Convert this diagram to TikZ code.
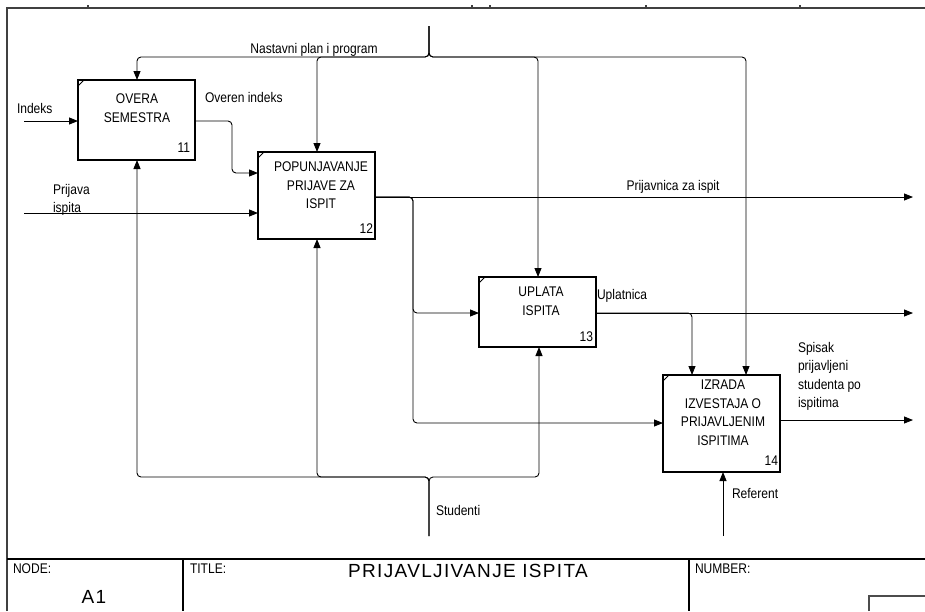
\documentclass[tikz,border=0pt]{standalone}
\usepackage{fontspec}
\setmainfont{Liberation Sans}[FakeStretch=0.86]
\newfontfamily\titlefont{Liberation Sans}[LetterSpace=7]
\usetikzlibrary{arrows.meta,calc}

\begin{document}
\begin{tikzpicture}[x=1pt,y=-1pt,
  every node/.style={inner sep=0pt, outer sep=0pt},
  lbl/.style={font=\fontsize{14}{18.5}\selectfont},
  boxtext/.style={lbl, align=center, anchor=north},
  fn/.style={draw, line width=1.6pt, minimum width=117pt},
  corner/.style={line width=0.8pt},
  con/.style={line width=0.9pt, rounded corners=4pt},
  arr/.style={con, -{Triangle[length=9pt,width=7pt]}},
  frame/.style={line width=1.1pt},
  bigtext/.style={font=\titlefont\fontsize{19}{21}\selectfont},
]
\useasboundingbox (0,0) rectangle (925,611);

% ---- sheet frame and title block ----
\draw[frame, black!75] (7,611) -- (7,8) -- (925,8);
\foreach \x in {88,472,490,646,800} \draw[frame, black!75] (\x,5) -- (\x,8);
\draw[frame] (7,559) -- (925,559);
\draw[frame] (183,559) -- (183,611);
\draw[frame] (689,559) -- (689,611);
\draw[frame, black!70] (869,611) -- (869,596) -- (925,596);
\node[lbl, anchor=base west] (nodelbl) at (13,573) {NODE:};
\node[lbl, anchor=base west] (titlelbl) at (190,573) {TITLE:};
\node[lbl, anchor=base west] (numlbl) at (695,573) {NUMBER:};
\node[bigtext, anchor=base] (nodeid) at (94,603) {A1};
\node[bigtext, anchor=base] (title) at (468,577) {PRIJAVLJIVANJE ISPITA};

% ---- activity boxes ----
\node[fn, minimum height=80pt] (b11) at (136.5,120) {};
\node[fn, minimum height=87pt] (b12) at (316.5,195.5) {};
\node[fn, minimum height=70pt] (b13) at (537.5,312) {};
\node[fn, minimum height=97pt] (b14) at (721.5,423.5) {};
\foreach \b in {b11,b12,b13,b14}
  \draw[corner] ($(\b.north west)+(0,6)$) -- ($(\b.north west)+(6,0)$);

\node[boxtext] (t11) at (137,94) {OVERA\\SEMESTRA};
\node[boxtext] (t12) at (321,162) {POPUNJAVANJE\\PRIJAVE ZA\\ISPIT};
\node[boxtext] (t13) at (541,287) {UPLATA\\ISPITA};
\node[boxtext] (t14) at (723,380) {IZRADA\\IZVESTAJA O\\PRIJAVLJENIM\\ISPITIMA};

\node[lbl, anchor=base east] (n11) at (190,152) {11};
\node[lbl, anchor=base east] (n12) at (373,233) {12};
\node[lbl, anchor=base east] (n13) at (593,341) {13};
\node[lbl, anchor=base east] (n14) at (778,465) {14};

% ---- free arrow ends ----
\coordinate (ctlsrc) at (429,26);
\coordinate (mechsrc) at (429,536);
\coordinate (refsrc) at (723,536);
\coordinate (indeks) at (24,121);
\coordinate (prijava) at (24,213);
\coordinate (o12) at (913,197);
\coordinate (o13) at (913,313);
\coordinate (o14) at (913,420);

% ---- controls: Nastavni plan i program ----
\draw[arr] (ctlsrc) |- (137,57) -- (137,0 |- b11.north);
\draw[arr] (ctlsrc) |- (317,57) -- (317,0 |- b12.north);
\draw[arr] (ctlsrc) |- (538,57) -- (538,0 |- b13.north);
\draw[arr] (ctlsrc) |- (746,57) -- (746,0 |- b14.north);
\node[lbl, anchor=base] (lnpp) at (314,53.5) {Nastavni plan i program};

% ---- mechanisms: Studenti ----
\draw[arr] (mechsrc) |- (137,477) -- (137,0 |- b11.south);
\draw[arr] (mechsrc) |- (317,477) -- (317,0 |- b12.south);
\draw[arr] (mechsrc) |- (539,477) -- (539,0 |- b13.south);
\node[lbl, anchor=base west] (lstud) at (436,515) {Studenti};

\draw[arr] (refsrc) -- (refsrc |- b14.south);
\node[lbl, anchor=base west] (lref) at (732,498) {Referent};

% ---- inputs ----
\draw[arr] (indeks) -- (b11.west |- indeks);
\node[lbl, anchor=base west] (lind) at (17,113) {Indeks};
\draw[arr] (prijava) -- (b12.west |- prijava);
\node[lbl, anchor=north west, align=left] (lprij) at (53,184) {Prijava\\ispita};

% ---- flows between activities ----
\draw[arr] (b11.east |- 0,121) -| (232,173) -- (b12.west |- 0,173);
\node[lbl, anchor=base west] (lover) at (205,102) {Overen indeks};

\draw[arr] (b12.east |- o12) -- (o12);
\node[lbl, anchor=base] (lpzi) at (673,190) {Prijavnica za ispit};
\draw[arr] (b12.east |- o12) -| (413,313) -- (b13.west |- 0,313);
\draw[arr] (b12.east |- o12) -| (413,423) -- (b14.west |- 0,423);

\draw[arr] (b13.east |- o13) -- (o13);
\draw[arr] (b13.east |- o13) -| (692,0 |- b14.north);
\node[lbl, anchor=base west] (lupl) at (597,299) {Uplatnica};

\draw[arr] (b14.east |- o14) -- (o14);
\node[lbl, anchor=north west, align=left] (lsps) at (798,342) {Spisak\\prijavljeni\\studenta po\\ispitima};

\end{tikzpicture}
\end{document}
